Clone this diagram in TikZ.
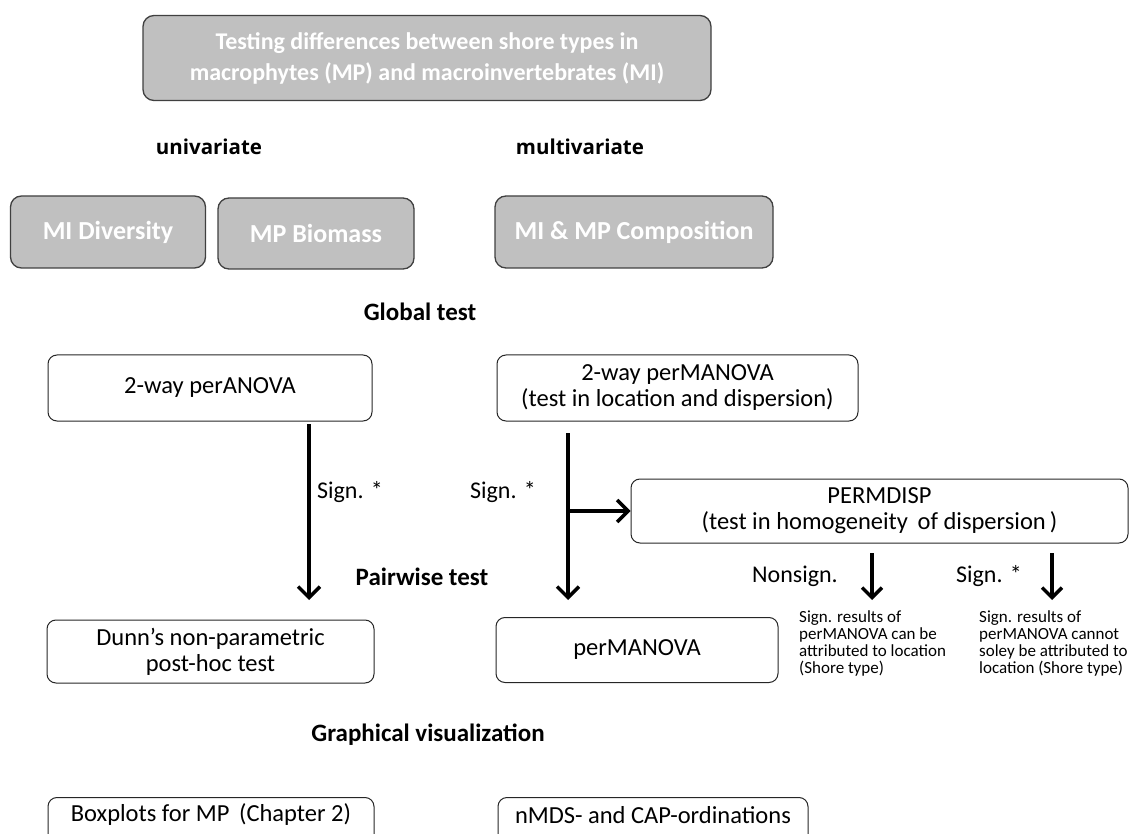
\documentclass[tikz,border=0pt]{standalone}
\usepackage{fontspec}
\setmainfont{Carlito}
\newfontfamily\headsans{Open Sans}
\usetikzlibrary{arrows.meta}
\definecolor{boxgray}{HTML}{C0C0C0}
\definecolor{edgegray}{HTML}{404040}
\tikzset{
  gbox/.style={draw=edgegray, line width=1.3pt, fill=boxgray, rounded corners=11pt, text=white, font=\bfseries\fontsize{26}{30}\selectfont, align=center, inner sep=0pt},
  wbox/.style={draw=black!85, line width=1pt, rounded corners=9pt, font=\fontsize{24.5}{26}\selectfont, align=center, inner sep=0pt},
  head/.style={font=\bfseries\fontsize{25}{30}\selectfont, inner sep=0pt},
  colhead/.style={font=\headsans\bfseries\fontsize{20.5}{24}\selectfont, inner sep=0pt},
  lbl/.style={font=\fontsize{24}{28}\selectfont, inner sep=0pt},
  small/.style={font=\fontsize{17}{17}\selectfont, align=left, inner sep=0pt, anchor=north west},
  arr/.style={line width=3.5pt, -{Straight Barb[length=11pt,width=22pt,line width=3.5pt]}},
  sarr/.style={line width=3.5pt, -{Straight Barb[length=10pt,width=20pt,line width=3.5pt]}}
}
\begin{document}
\begin{tikzpicture}[x=1pt,y=-1pt]
\useasboundingbox (0,0) rectangle (1141,834);
\clip (0,0) rectangle (1141,834);
% top
\node[gbox, minimum width=568pt, minimum height=85pt, font=\bfseries\fontsize{24}{31}\selectfont] (top) at (427,58) {Testing differences between shore types in\\macrophytes (MP) and macroinvertebrates (MI)};
\node[colhead] (uni) at (209,147) {univariate};
\node[colhead] (multi) at (580,147) {multivariate};
\node[gbox, minimum width=195pt, minimum height=72pt] (mid) at (108,232) {MI Diversity};
\node[gbox, minimum width=196pt, minimum height=71pt] (mpb) at (316,233.5) {MP Biomass};
\node[gbox, minimum width=278pt, minimum height=72pt] (comp) at (634,232) {MI \& MP Composition};
\node[head] (glob) at (420,312) {Global test};
% global tests
\node[wbox, minimum width=324pt, minimum height=66pt] (anova) at (210,388) {2-way perANOVA};
\node[wbox, minimum width=361pt, minimum height=66pt] (manova) at (677.5,388) {2-way perMANOVA\\(test in location and dispersion)};
\node[wbox, minimum width=497pt, minimum height=64pt] (disp) at (879.5,511) {PERMDISP\\(test in homogeneity\, of dispersion\,)};
% pairwise
\node[head] (pair) at (422,577) {Pairwise test};
\node[wbox, minimum width=327pt, minimum height=63pt] (dunn) at (210.5,651.5) {Dunn’s non-parametric\\post-hoc test};
\node[wbox, minimum width=282pt, minimum height=65pt] (pman) at (637,650) {perMANOVA};
% arrows
\coordinate (a1s) at (309,424);
\coordinate (a1e) at (309,600);
\draw[arr] (a1s) -- (a1e);
\node[lbl] (s1) at (350,492) {Sign. *};
\coordinate (a2s) at (568,433);
\coordinate (a2e) at (568,600);
\coordinate (br) at (568,511);
\draw[arr] (a2s) -- (a2e);
\draw[arr] (br) -- (disp.west);
\node[lbl] (s2) at (503,492) {Sign. *};
\coordinate (n1s) at (872,553);
\coordinate (n1e) at (872,600);
\draw[sarr] (n1s) -- (n1e);
\coordinate (n2s) at (1052,553);
\coordinate (n2e) at (1052,600);
\draw[sarr] (n2s) -- (n2e);
\node[lbl] (ns) at (795,576) {Nonsign.};
\node[lbl] (s3) at (989,576) {Sign. *};
\node[small] (t1) at (799,610) {Sign. results of\\perMANOVA can be\\attributed to location\\(Shore type)};
\node[small] (t2) at (979,610) {Sign. results of\\perMANOVA cannot\\soley be attributed to\\location (Shore type)};
% graphical
\node[head] (graph) at (428,735) {Graphical visualization};
\node[wbox, minimum width=326pt, minimum height=62pt, anchor=north] (box) at (211,797) {};
\node[lbl, font=\fontsize{24.5}{28}\selectfont] (boxt) at (211,815) {Boxplots for MP\, (Chapter 2)};
\node[wbox, minimum width=310pt, minimum height=62pt, anchor=north] (nmds) at (653,797) {};
\node[lbl, font=\fontsize{24.5}{28}\selectfont] (nmdst) at (653,815) {nMDS- and CAP-ordinations};
\end{tikzpicture}
\end{document}
